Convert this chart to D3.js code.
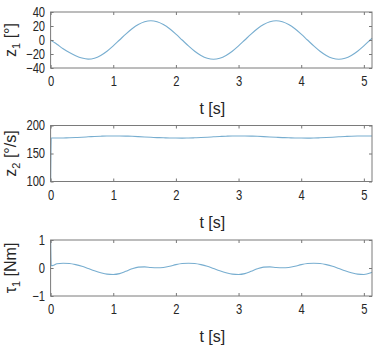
<!DOCTYPE html>
<html lang="en">
<head>
  <meta charset="UTF-8">
  <title>z1, z2, tau1 vs time</title>
  <script src="https://d3js.org/d3.v7.min.js"></script>
  <style>
    body {
      margin: 0;
      background: white;
    }
    svg {
      display: block;
      font-family: "Liberation Sans", Arial, sans-serif;
    }
    .tick text {
      fill: #262626;
      font-size: 14px;
    }
    .tick line {
      stroke: #777;
    }
    .frame {
      fill: none;
      stroke: #7a7a7a;
      stroke-width: 1;
    }
    .series {
      fill: none;
      stroke: #78aed0;
      stroke-width: 1.1;
    }
    .label {
      fill: #262626;
      font-size: 16px;
    }
  </style>
</head>
<body>
  <div id="chart"></div>

  <script>
    // time samples (s)
    const time = [0, 0.01, 0.05, 0.1, 0.2, 0.3, 0.4, 0.5, 0.6, 0.7, 0.8, 0.9,
      1.0, 1.1, 1.2, 1.3, 1.4, 1.5, 1.6, 1.7, 1.8, 1.9,
      2.0, 2.1, 2.2, 2.3, 2.4, 2.5, 2.6, 2.7, 2.8, 2.9,
      3.0, 3.1, 3.2, 3.3, 3.4, 3.5, 3.6, 3.7, 3.8, 3.9,
      4.0, 4.1, 4.2, 4.3, 4.4, 4.5, 4.6, 4.7, 4.8, 4.9,
      5.0, 5.1, 5.13];

    // z1 [deg]
    const z1 = [0, -0.6, -3, -6, -12.5, -18, -22.5, -25.8, -27.3, -26, -22, -16,
      -8.4, 0, 8.4, 16, 22, 26, 27.5, 26, 22, 16,
      8.4, 0, -8.4, -16, -22, -26, -27.5, -26, -22, -16,
      -8.4, 0, 8.4, 16, 22, 26, 27.5, 26, 22, 16,
      8.4, 0, -8.4, -16, -22, -26, -27.5, -26, -22, -16,
      -8.4, 0, 2.5];

    // z2 [deg/s]
    const z2 = [100, 177.8, 177.7, 177.6, 177.7, 178.0, 178.5, 179.1, 179.8, 180.4, 180.9, 181.2,
      181.3, 181.3, 181.1, 180.7, 180.1, 179.5, 178.9, 178.4, 178.0, 177.7,
      177.6, 177.5, 177.6, 178.0, 178.5, 179.1, 179.8, 180.4, 180.9, 181.2,
      181.3, 181.3, 181.1, 180.7, 180.1, 179.5, 178.9, 178.4, 178.0, 177.7,
      177.6, 177.5, 177.6, 178.0, 178.5, 179.1, 179.8, 180.4, 180.9, 181.2,
      181.3, 181.3, 181.3];

    // tau1 [Nm]
    const tau1 = [1.0, 0.08, 0.1, 0.15, 0.17, 0.16, 0.12, 0.06, -0.02, -0.1, -0.17, -0.22,
      -0.23, -0.2, -0.12, -0.03, 0.03, 0.04, 0.02, 0.01, 0.02, 0.06,
      0.12, 0.16, 0.17, 0.16, 0.12, 0.06, -0.02, -0.1, -0.17, -0.22,
      -0.23, -0.2, -0.12, -0.03, 0.03, 0.04, 0.02, 0.01, 0.02, 0.06,
      0.12, 0.16, 0.17, 0.16, 0.12, 0.06, -0.02, -0.1, -0.17, -0.22,
      -0.23, -0.18, -0.15];

    const xTicks = [0, 1, 2, 3, 4, 5];
    const panels = [
      { values: z1, domain: [-40, 40], ticks: [-40, -20, 0, 20, 40], sym: "z", sub: "1", unit: " [°]", top: 12 },
      { values: z2, domain: [100, 200], ticks: [100, 150, 200], sym: "z", sub: "2", unit: " [°/s]", top: 125.5 },
      { values: tau1, domain: [-1, 1], ticks: [-1, 0, 1], sym: "τ", sub: "1", unit: " [Nm]", top: 240 }
    ];

    const width = 378, height = 354;
    const left = 50.6, right = 372, panelH = 56;

    const svg = d3.select("#chart").append("svg")
      .attr("width", width)
      .attr("height", height);

    const x = d3.scaleLinear().domain([0, 5.13]).range([left, right]);

    // squeeze a text horizontally (the original uses a narrow font)
    function narrow(sel, k) {
      sel.each(function() {
        const w = this.getComputedTextLength();
        d3.select(this).attr("textLength", w * k).attr("lengthAdjust", "spacingAndGlyphs");
      });
    }

    panels.forEach(p => {
      const y = d3.scaleLinear().domain(p.domain).range([p.top + panelH, p.top]);
      const g = svg.append("g");

      const line = d3.line()
        .x((d, i) => x(time[i]))
        .y(d => y(d))
        .curve(d3.curveMonotoneX);

      g.append("path")
        .attr("class", "series")
        .attr("d", line(p.values));

      // ticks pointing inward on all four sides
      g.append("g")
        .attr("transform", `translate(0,${p.top + panelH})`)
        .call(d3.axisBottom(x).tickValues(xTicks).tickSize(-3).tickPadding(8.5).tickFormat(d3.format("d")))
        .call(a => a.select(".domain").remove());
      g.append("g")
        .attr("transform", `translate(0,${p.top})`)
        .call(d3.axisTop(x).tickValues(xTicks).tickSize(-3).tickFormat(""))
        .call(a => a.select(".domain").remove());
      g.append("g")
        .attr("transform", `translate(${left},0)`)
        .call(d3.axisLeft(y).tickValues(p.ticks).tickSize(-3).tickPadding(5.5).tickFormat(d3.format("d")))
        .call(a => a.select(".domain").remove());
      g.append("g")
        .attr("transform", `translate(${right},0)`)
        .call(d3.axisRight(y).tickValues(p.ticks).tickSize(-3).tickFormat(""))
        .call(a => a.select(".domain").remove());

      g.selectAll("g").attr("font-family", null).attr("font-size", null);
      narrow(g.selectAll(".tick text"), 0.8);

      g.append("rect")
        .attr("class", "frame")
        .attr("x", left)
        .attr("y", p.top)
        .attr("width", right - left)
        .attr("height", panelH);

      g.append("text")
        .attr("class", "label")
        .attr("x", (left + right) / 2 + 1)
        .attr("y", p.top + panelH + 46)
        .attr("text-anchor", "middle")
        .text("t [s]");

      const yl = g.append("text")
        .attr("class", "label")
        .attr("text-anchor", "middle")
        .attr("transform", `translate(16,${p.top + panelH / 2}) rotate(-90)`);
      yl.append("tspan").text(p.sym);
      yl.append("tspan").attr("dy", 4).attr("font-size", 11).text(p.sub);
      yl.append("tspan").attr("dy", -4).text(p.unit);
    });
  </script>
</body>
</html>
